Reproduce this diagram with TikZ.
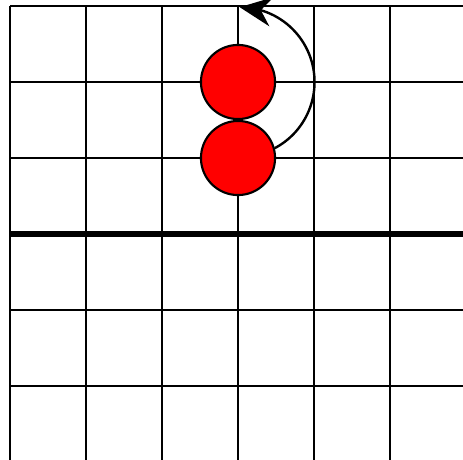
\documentclass[tikz,border=0pt]{standalone}
\usetikzlibrary{arrows.meta,bending}
\tikzset{
  cell/.style={line width=0.75pt},
  axisline/.style={line width=2.4pt},
  stone/.style={circle, draw=black, line width=0.8pt, fill=red, minimum size=0.975cm, inner sep=0pt},
  turn/.style={line width=0.9pt, -{Stealth[length=12pt,width=11pt,inset=4pt,flex]}}
}

\begin{document}
\begin{tikzpicture}
  \useasboundingbox (-0.1316,0.0395) rectangle (5.9605,6.079);
  \clip (-0.1316,0.0395) rectangle (5.9605,6.079);
  \fill[white] (-0.1316,0.0395) rectangle (5.9605,6.079);
  \draw[cell] (0,0) grid (6,6);
  \draw[axisline] (0,3) -- (6,3);

  \node[stone] (upper) at (3,5) {};
  \node[stone] (lower) at (3,4) {};

  \draw[turn] (lower.15) arc[start angle=-62, end angle=90, radius=0.985];
\end{tikzpicture}
\end{document}
